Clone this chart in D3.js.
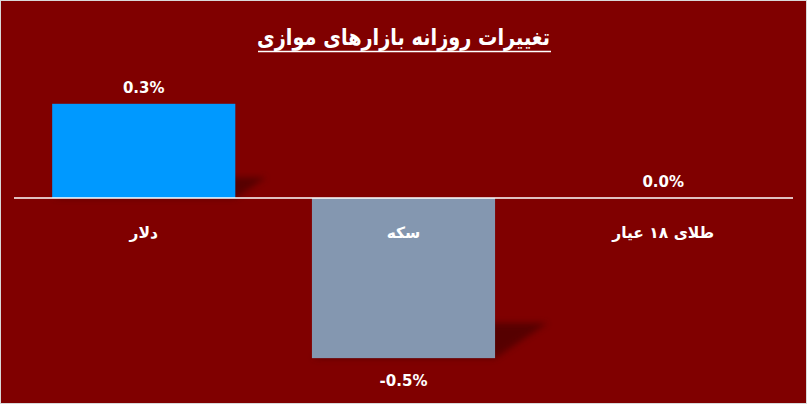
<!DOCTYPE html>
<html>
<head>
<meta charset="utf-8">
<script src="https://cdn.jsdelivr.net/npm/d3@7"></script>
<style>
  html, body { margin: 0; padding: 0; background: #800000; }
  svg { display: block; }
</style>
</head>
<body>
<div id="chart"></div>
<script>
// chart data
const categories = ["دلار", "سکه", "طلای ۱۸ عیار"];
const values = [0.30, -0.51, 0.0];
const valueLabels = ["0.3%", "-0.5%", "0.0%"];
const barColors = ["#0099ff", "#8497b0", "#a5a5a5"];
const title = "تغییرات روزانه بازارهای موازی";

const W = 807, H = 404;
const plot = { left: 14, right: 793 };

const svg = d3.select("#chart").append("svg")
    .attr("width", W)
    .attr("height", H);

// background + thin frame
svg.append("rect")
    .attr("x", 0.5).attr("y", 0.5)
    .attr("width", W - 1).attr("height", H - 1)
    .attr("fill", "#800000")
    .attr("stroke", "#d9d9d9")
    .attr("stroke-width", 1);

const defs = svg.append("defs");
defs.append("filter")
    .attr("id", "blur")
    .attr("x", "-50%").attr("y", "-50%")
    .attr("width", "200%").attr("height", "200%")
    .append("feGaussianBlur")
    .attr("stdDeviation", 3);

// scales
const x = d3.scaleBand()
    .domain(categories)
    .range([plot.left, plot.right])
    .paddingInner(0.295)
    .paddingOuter(0.147);

const y = d3.scaleLinear()
    .domain([-0.6, 0.4])
    .range([198 + 0.6 * 314, 198 - 0.4 * 314]);

const data = categories.map((c, i) => ({ cat: c, value: values[i], label: valueLabels[i], color: barColors[i] }));

// perspective shadows (drawn behind bars)
svg.selectAll(".shadow")
    .data(data.filter(d => d.value !== 0))
    .enter().append("path")
    .attr("class", "shadow")
    .attr("fill", "#4a0000")
    .attr("opacity", 0.75)
    .attr("filter", "url(#blur)")
    .attr("d", d => {
        const x0 = x(d.cat), x1 = x0 + x.bandwidth();
        const top = Math.min(y(d.value), y(0));
        const bottom = Math.max(y(d.value), y(0));
        const h = bottom - top;
        const dx = 0.33 * h, dy = 0.22 * h;
        return `M${x0},${bottom} L${x1},${bottom} L${x1 + dx},${bottom - dy} L${x0 + dx + 20},${bottom - dy} Z`;
    });

// bars
svg.selectAll(".bar")
    .data(data)
    .enter().append("rect")
    .attr("class", "bar")
    .attr("x", d => x(d.cat))
    .attr("y", d => Math.min(y(d.value), y(0)))
    .attr("width", x.bandwidth())
    .attr("height", d => Math.abs(y(d.value) - y(0)))
    .attr("fill", d => d.color);

// zero line
svg.append("line")
    .attr("x1", plot.left).attr("x2", plot.right)
    .attr("y1", y(0)).attr("y2", y(0))
    .attr("stroke", "#ffffff")
    .attr("stroke-width", 1.3);

// category labels
svg.selectAll(".cat")
    .data(data)
    .enter().append("text")
    .attr("class", "cat")
    .attr("x", d => x(d.cat) + x.bandwidth() / 2)
    .attr("y", y(0) + 40)
    .attr("text-anchor", "middle")
    .attr("direction", "rtl")
    .attr("fill", "#ffffff")
    .attr("font-family", "DejaVu Sans, sans-serif")
    .attr("font-weight", "bold")
    .attr("font-size", "15.5px")
    .text(d => d.cat);

// value labels
svg.selectAll(".val")
    .data(data)
    .enter().append("text")
    .attr("class", "val")
    .attr("x", d => x(d.cat) + x.bandwidth() / 2)
    .attr("y", d => d.value >= 0 ? y(d.value) - 11 : y(d.value) + 28)
    .attr("text-anchor", "middle")
    .attr("fill", "#ffffff")
    .attr("font-family", "DejaVu Sans, sans-serif")
    .attr("font-weight", "bold")
    .attr("font-size", "15px")
    .text(d => d.label);

// title with underline
svg.append("text")
    .attr("x", W / 2)
    .attr("y", 45)
    .attr("text-anchor", "middle")
    .attr("direction", "rtl")
    .attr("fill", "#ffffff")
    .attr("font-family", "DejaVu Sans, sans-serif")
    .attr("font-weight", "bold")
    .attr("font-size", "23px")
    .attr("textLength", 293)
    .attr("lengthAdjust", "spacingAndGlyphs")
    .text(title);

svg.append("line")
    .attr("x1", 258).attr("x2", 551)
    .attr("y1", 51.5).attr("y2", 51.5)
    .attr("stroke", "#ffffff")
    .attr("stroke-width", 1.5);
</script>
</body>
</html>
